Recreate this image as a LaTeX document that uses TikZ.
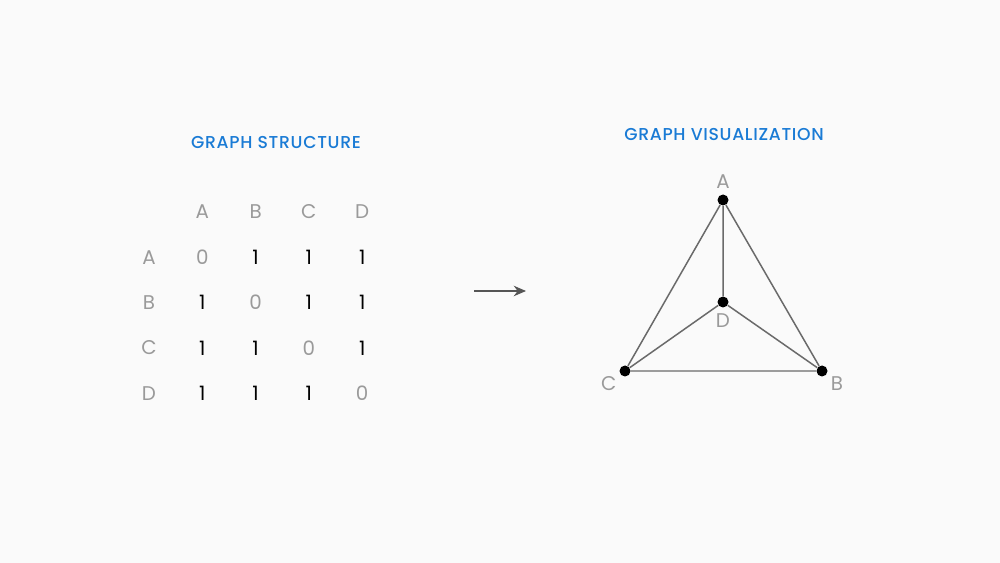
\documentclass[tikz,border=0pt]{standalone}
\usepackage{fontspec}
\setmainfont{Poppins}
\newfontfamily\headfont{Poppins Medium}[LetterSpace=4]
\usepackage{tikz}
\usetikzlibrary{arrows.meta}
\definecolor{paper}{HTML}{FAFAFA}
\definecolor{headblue}{HTML}{1A7BD5}
\definecolor{labelgray}{HTML}{9A9A9A}
\definecolor{edgegray}{HTML}{6A6A6A}

\begin{document}
\begin{tikzpicture}[x=0.02cm, y=-0.02cm, font=\fontsize{11.3}{13}\selectfont,
  head/.style={text=headblue, font=\headfont\fontsize{9.8}{12}\selectfont},
  lbl/.style={text=labelgray, inner sep=0pt},
  one/.style={text=black, inner sep=0pt},
  vertex/.style={circle, fill=black, inner sep=0pt, minimum size=0.22cm},
  edge/.style={draw=edgegray, line width=0.85pt}]
  \fill[paper] (0,0) rectangle (1000,563);
  % titles
  \node[head] (structTitle) at (276,143) {GRAPH STRUCTURE};
  \node[head] (vizTitle) at (724,135) {GRAPH VISUALIZATION};
  % adjacency matrix
  \foreach \c [count=\i] in {A,B,C,D} {
    \node[lbl] (col\c) at ({149+53.3*\i},212) {\c};
    \node[lbl] (row\c) at (149,{212+45.3*\i}) {\c};
  }
  \foreach \r [count=\j] in {A,B,C,D}
    \foreach \c [count=\i] in {A,B,C,D} {
      \ifnum\i=\j \def\cellstyle{lbl}\def\cellval{0}\else \def\cellstyle{one}\def\cellval{1}\fi
      \node[\cellstyle] (cell\r\c) at ({149+53.3*\i},{212+45.3*\j}) {\cellval};
    }
  % arrow
  \coordinate (arrowStart) at (474,291);
  \coordinate (arrowEnd) at (526,291);
  \draw[edgegray!80!black, line width=0.85pt, -{Stealth[length=7pt,width=6pt]}] (arrowStart) -- (arrowEnd);
  % graph
  \node[vertex, label={[lbl, label distance=0.11cm]above:A}] (A) at (723,200) {};
  \node[vertex, label={[lbl, label distance=0.11cm]below:D}] (D) at (723,302) {};
  \node[vertex, label={[lbl, label distance=0.08cm]-146:C}] (C) at (625,371) {};
  \node[vertex, label={[lbl, label distance=0.08cm]-30:B}] (B) at (822,371) {};
  \draw[edge] (A) -- (B) -- (C) -- (A) -- (D);
  \draw[edge] (D) -- (B) (D) -- (C);
\end{tikzpicture}
\end{document}
